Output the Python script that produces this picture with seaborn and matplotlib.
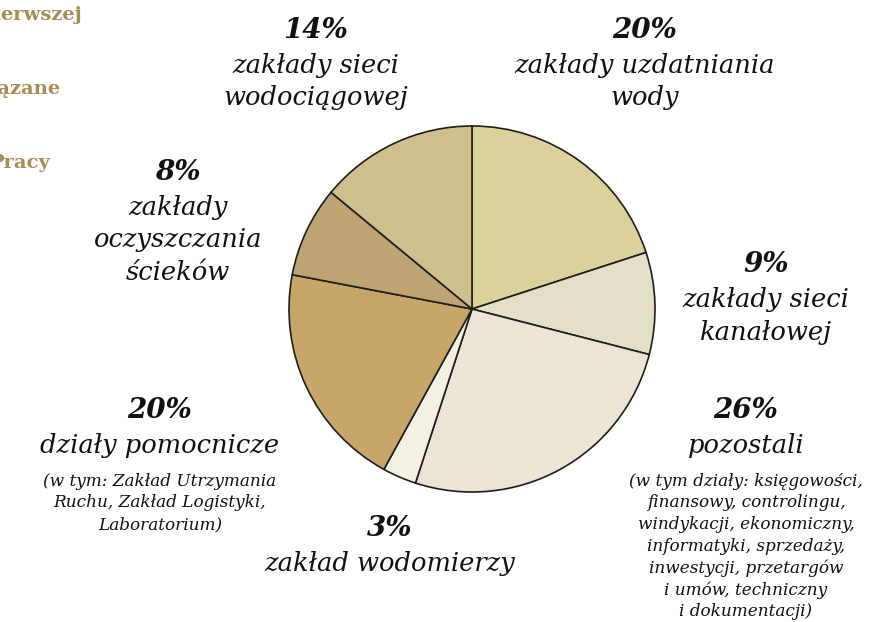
import matplotlib
matplotlib.use("Agg")
import matplotlib.pyplot as plt
import seaborn as sns

sns.set_theme(style="white")
plt.rcParams['font.family'] = ['DejaVu Serif']

# ---- data (clockwise from 12 o'clock) ----
values = [20, 9, 26, 3, 20, 8, 14]
pct_labels = ["20%", "9%", "26%", "3%", "20%", "8%", "14%"]
names = [
    ["zakłady uzdatniania", "wody"],
    ["zakłady sieci", "kanałowej"],
    ["pozostali"],
    ["zakład wodomierzy"],
    ["działy pomocnicze"],
    ["zakłady", "oczyszczania", "ścieków"],
    ["zakłady sieci", "wodociągowej"],
]
notes = [
    [],
    [],
    ["(w tym działy: księgowości,", "finansowy, controlingu,",
     "windykacji, ekonomiczny,", "informatyki, sprzedaży,",
     "inwestycji, przetargów", "i umów, techniczny", "i dokumentacji)"],
    [],
    ["(w tym: Zakład Utrzymania", "Ruchu, Zakład Logistyki,",
     "Laboratorium)"],
    [],
    [],
]
colors = ["#dbd29b", "#e4dfc7", "#ece5d5", "#f4f1e4", "#c8a66a", "#bda472", "#cfbf8c"]
legend_fragments = ["pierwszej", "związane", "Pracy"]

# ---- layout (pixel positions of label anchors) ----
W, H = 896, 622
label_pos = [(645, 30), (766, 265), (746, 410), (390, 528), (160, 410), (178, 172), (316, 30)]
name_step = 32.5
note_step = 21.8

fig = plt.figure(figsize=(W / 100, H / 100), dpi=100)
fig.patch.set_facecolor("white")
ax = fig.add_axes([0, 0, 1, 1])

ax.pie(values, colors=colors, startangle=90, counterclock=False,
       center=(472, H - 309), radius=183,
       wedgeprops=dict(edgecolor="#1e1e1e", linewidth=1.2))
ax.set_xlim(0, W)
ax.set_ylim(0, H)
ax.set_aspect("equal")
ax.axis("off")

ink = "#111111"
for (px, py), pct, nm, nt in zip(label_pos, pct_labels, names, notes):
    ax.text(px, H - py, pct, ha="center", va="center", fontsize=20,
            fontweight="bold", fontstyle="italic", color=ink)
    y = py + 35
    for line in nm:
        ax.text(px, H - y, line, ha="center", va="center", fontsize=18.5,
                fontstyle="italic", color=ink)
        y += name_step
    y = y - name_step + 36
    for line in nt:
        ax.text(px, H - y, line, ha="center", va="center", fontsize=12.2,
                fontstyle="italic", color=ink)
        y += note_step

# cut-off legend fragments at left edge
frag_pos = [(82, 15), (60, 89), (50, 163)]
for (fx, fy), t in zip(frag_pos, legend_fragments):
    ax.text(fx, H - fy, t, ha="right", va="center", fontsize=14,
            fontweight="bold", color="#a98b55")

fig.savefig("out.png", dpi=100, facecolor="white")
